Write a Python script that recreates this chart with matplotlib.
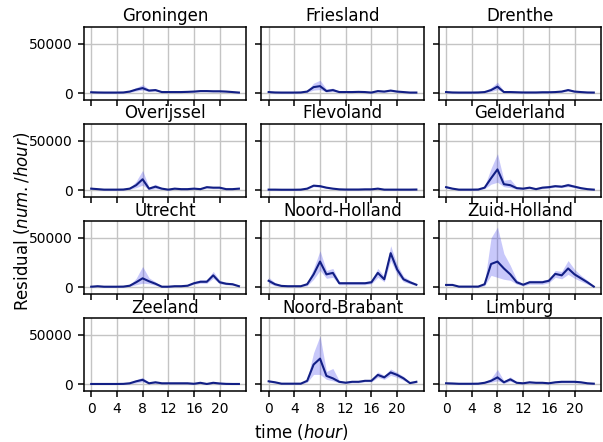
import numpy as np
import matplotlib.pyplot as plt

hours = list(range(24))
provinces = ['Groningen', 'Friesland', 'Drenthe',
             'Overijssel', 'Flevoland', 'Gelderland',
             'Utrecht', 'Noord-Holland', 'Zuid-Holland',
             'Zeeland', 'Noord-Brabant', 'Limburg']

# mean residual per hour (thousands)
mean = {
    'Groningen':     [0.8, 0.6, 0.5, 0.5, 0.5, 0.6, 1.5, 3.5, 5, 2.5, 3, 1, 1, 1, 1, 1.2, 1.5, 2, 2, 1.8, 1.8, 1.5, 1, 0.5],
    'Friesland':     [1, 0.6, 0.5, 0.5, 0.5, 0.6, 1.5, 6, 7, 2, 3, 1, 1, 1, 1.2, 1, 0.5, 2, 1.5, 2.5, 1.5, 1, 0.5, 0.5],
    'Drenthe':       [1, 0.6, 0.5, 0.5, 0.5, 0.6, 1, 3, 6.5, 1, 1, 0.8, 0.6, 0.6, 0.6, 0.8, 0.8, 1, 1.5, 3, 1.5, 1, 0.6, 0.5],
    'Overijssel':    [1.5, 1, 0.5, 0.5, 0.5, 0.6, 1.5, 5, 11, 1.5, 3.5, 1.5, 0.5, 1.5, 1, 1, 1.5, 1, 3, 2.5, 2.5, 1, 1, 1.5],
    'Flevoland':     [0.5, 0.5, 0.4, 0.4, 0.4, 0.5, 1.5, 4.5, 4, 2.5, 1.5, 0.8, 0.6, 0.6, 0.6, 0.8, 0.8, 1.5, 0.5, 0.5, 0.5, 0.5, 0.5, 0.6],
    'Gelderland':    [3, 1.5, 0.5, 0.5, 0.5, 0.6, 2.5, 12, 21, 6, 5, 2, 1.5, 2.5, 1, 2.5, 3, 4, 3.5, 5, 3.5, 2, 1, 0.5],
    'Utrecht':       [0.5, 1, 0.5, 0.5, 0.5, 0.6, 1.5, 5, 9, 6, 3.5, 0.5, 0.5, 1, 1, 1.5, 4, 5.5, 5.5, 12, 5, 3.5, 3, 1],
    'Noord-Holland': [6.5, 3, 1.3, 1, 1, 1, 3, 13, 26, 13, 14.5, 4, 4, 4, 4, 4, 5, 14.5, 8, 34.5, 18, 8, 5, 2.5],
    'Zuid-Holland':  [2.3, 2.3, 0.6, 0.6, 0.6, 0.6, 3, 23.5, 26, 19, 13, 5, 2.5, 5, 5, 5, 6.5, 13.5, 12, 19, 13, 9, 5, 0.6],
    'Zeeland':       [0.3, 0.3, 0.3, 0.3, 0.3, 0.4, 1, 3, 4.5, 1, 2, 1, 1, 1, 1, 1, 0.5, 1.5, 0.3, 1.5, 0.8, 0.4, 0.3, 0.3],
    'Noord-Brabant': [3, 2, 0.6, 0.6, 0.6, 0.6, 3.5, 20, 26, 8.5, 6, 2.5, 1.6, 2.5, 2.5, 3.5, 3.5, 9.5, 7, 12, 9.5, 6, 1.2, 2.5],
    'Limburg':       [1, 0.8, 0.5, 0.5, 0.5, 0.6, 1.5, 3.5, 7, 2, 5, 1.5, 1, 2, 1.5, 1.5, 1, 2, 2.5, 2.5, 2.5, 2, 1, 0.6],
}
# confidence band, lower and upper (thousands)
low = {
    'Groningen':     [0.3, 0.2, 0.1, 0.1, 0.1, 0.2, 0.8, 2, 3, 1.5, 2, 0.5, 0.5, 0.5, 0.5, 0.7, 0.9, 1.4, 1.4, 1.2, 1.2, 1, 0.5, 0.1],
    'Friesland':     [0.4, 0.2, 0.1, 0.1, 0.1, 0.2, 0.8, 3, 3.5, 1, 1.5, 0.5, 0.5, 0.5, 0.6, 0.5, 0.1, 1, 0.8, 1.5, 0.8, 0.5, 0.1, 0.1],
    'Drenthe':       [0.4, 0.2, 0.1, 0.1, 0.1, 0.2, 0.5, 1.5, 3.5, 0.5, 0.4, 0.3, 0.2, 0.2, 0.2, 0.3, 0.3, 0.5, 0.8, 2, 0.8, 0.5, 0.2, 0.1],
    'Overijssel':    [0.8, 0.5, 0.1, 0.1, 0.1, 0.2, 0.8, 2.5, 5, 0.5, 1.5, 0.7, 0.1, 0.7, 0.4, 0.4, 0.8, 0.5, 2, 1.5, 1.5, 0.4, 0.4, 0.8],
    'Flevoland':     [0.2, 0.2, 0.1, 0.1, 0.1, 0.2, 0.9, 3.5, 3, 1.8, 1, 0.4, 0.3, 0.3, 0.3, 0.4, 0.4, 1, 0.2, 0.2, 0.2, 0.2, 0.2, 0.3],
    'Gelderland':    [2, 0.8, 0.1, 0.1, 0.1, 0.2, 1.5, 6, 8, 3.5, 2.5, 1, 0.8, 1.5, 0.5, 1.5, 2, 3, 2.5, 3.5, 2.5, 1.2, 0.5, 0.1],
    'Utrecht':       [0.1, 0.5, 0.1, 0.1, 0.1, 0.2, 0.8, 2.5, 4, 3.5, 2, 0.1, 0.1, 0.5, 0.5, 0.8, 3, 4, 4, 9, 3.5, 2.5, 2, 0.5],
    'Noord-Holland': [4, 1.5, 0.6, 0.5, 0.5, 0.5, 1.5, 8, 17, 9, 10, 2.5, 2.5, 2.5, 2.5, 2.5, 3.5, 10, 5.5, 27, 13, 5.5, 3.5, 1.5],
    'Zuid-Holland':  [1.5, 1.5, 0.2, 0.2, 0.2, 0.2, 1.5, 12, 10, 8, 7, 3, 1.5, 3, 3, 3, 4.5, 10, 8.5, 13, 9, 6, 3, 0.2],
    'Zeeland':       [0.1, 0.1, 0.1, 0.1, 0.1, 0.1, 0.5, 1.5, 2.5, 0.5, 1, 0.5, 0.5, 0.5, 0.5, 0.5, 0.2, 0.8, 0.1, 0.8, 0.4, 0.1, 0.1, 0.1],
    'Noord-Brabant': [2, 1.2, 0.2, 0.2, 0.2, 0.2, 2, 10, 10, 5, 3.5, 1.5, 0.8, 1.5, 1.5, 2.5, 2.5, 7, 5, 9, 7, 4, 0.6, 1.5],
    'Limburg':       [0.5, 0.4, 0.2, 0.2, 0.2, 0.3, 0.8, 2, 3.5, 1, 3, 0.8, 0.5, 1, 0.8, 0.8, 0.5, 1.2, 1.5, 1.5, 1.5, 1.2, 0.5, 0.2],
}
high = {
    'Groningen':     [1.3, 1, 0.9, 0.9, 0.9, 1, 2.5, 5.5, 8.5, 4, 4.5, 1.6, 1.6, 1.6, 1.6, 1.8, 2.2, 2.7, 2.7, 2.5, 2.5, 2.1, 1.5, 1],
    'Friesland':     [1.6, 1, 0.9, 0.9, 0.9, 1, 2.5, 10, 13, 4, 5, 1.6, 1.6, 1.6, 1.8, 1.6, 1, 3, 2.3, 3.5, 2.3, 1.6, 1, 1],
    'Drenthe':       [1.6, 1, 0.9, 0.9, 0.9, 1, 1.8, 5.5, 11, 2, 2.5, 1.4, 1.1, 1.1, 1.1, 1.4, 1.4, 1.6, 2.3, 4.5, 2.3, 1.6, 1.1, 1],
    'Overijssel':    [2.3, 1.6, 0.9, 0.9, 0.9, 1, 2.5, 9, 20, 3, 6, 2.3, 1, 2.3, 1.6, 1.6, 2.3, 1.6, 4, 3.5, 3.5, 1.6, 1.6, 2.3],
    'Flevoland':     [0.9, 0.9, 0.8, 0.8, 0.8, 0.9, 2.2, 6, 5.5, 3.3, 2.1, 1.3, 1, 1, 1, 1.3, 1.3, 2.1, 0.9, 0.9, 0.9, 0.9, 0.9, 1],
    'Gelderland':    [4.5, 2.3, 0.9, 0.9, 0.9, 1, 4, 22, 37, 10, 11, 3.2, 2.3, 3.8, 1.6, 3.8, 4.3, 5.5, 4.8, 7, 5, 3, 1.6, 1],
    'Utrecht':       [1, 1.6, 0.9, 0.9, 0.9, 1, 2.5, 9, 21, 9.5, 5.5, 1, 1, 1.6, 1.6, 2.3, 5.5, 7.5, 7.5, 16, 7, 5, 4.3, 1.6],
    'Noord-Holland': [10, 4.5, 2, 1.6, 1.6, 1.6, 4.5, 19, 37, 17, 19, 5.5, 5.5, 5.5, 5.5, 5.5, 7, 19, 11, 42, 23, 11, 7, 3.5],
    'Zuid-Holland':  [3.2, 3.2, 1, 1, 1, 1, 5, 50, 61, 34, 22, 7.5, 3.5, 7, 7, 7, 8.5, 17, 16, 27, 18, 12, 7, 1],
    'Zeeland':       [0.6, 0.6, 0.6, 0.6, 0.6, 0.7, 1.6, 4.5, 7, 1.6, 3, 1.6, 1.6, 1.6, 1.6, 1.6, 0.9, 2.2, 0.6, 2.2, 1.2, 0.7, 0.6, 0.6],
    'Noord-Brabant': [4, 2.8, 1, 1, 1, 1, 5, 32, 49, 13, 16, 3.5, 2.4, 3.5, 3.5, 4.5, 4.5, 12.5, 9, 15.5, 12, 8, 1.8, 3.5],
    'Limburg':       [1.5, 1.2, 0.8, 0.8, 0.8, 0.9, 2.5, 6, 15, 3.5, 7.5, 2.3, 1.6, 3, 2.3, 2.3, 1.6, 2.8, 3.5, 3.5, 3.5, 2.8, 1.6, 1],
}

fig, axes = plt.subplots(4, 3, figsize=(6.03, 4.42), dpi=100, sharex=True, sharey=True)
plt.subplots_adjust(left=0.139, right=0.997, top=0.939, bottom=0.115, wspace=0.092, hspace=0.33)

for ax, prov in zip(axes.flat, provinces):
    m = np.array(mean[prov]) * 1000
    lo = np.array(low[prov]) * 1000
    hi = np.array(high[prov]) * 1000
    ax.fill_between(hours, lo, hi, color='#3a3aee', alpha=0.28, linewidth=0)
    ax.plot(hours, m, color='#121f85', linewidth=1.5)
    ax.set_title(prov, fontsize=12, pad=4)
    ax.grid(True, color='#c4c4c4', linewidth=1)
    ax.set_axisbelow(True)
    ax.tick_params(labelsize=10, length=4.5, width=1.1)
    for s in ax.spines.values():
        s.set_linewidth(1.1)

axes[0, 0].set_ylim(-7000, 67000)
axes[0, 0].set_yticks([0, 50000])
axes[0, 0].set_xticks([0, 4, 8, 12, 16, 20])

fig.supxlabel('time ($\\it{hour}$)', fontsize=12, y=0.0)
fig.supylabel('Residual ($\\it{num./hour}$)', fontsize=12, x=0.02)

plt.savefig('out.png', dpi=100)
